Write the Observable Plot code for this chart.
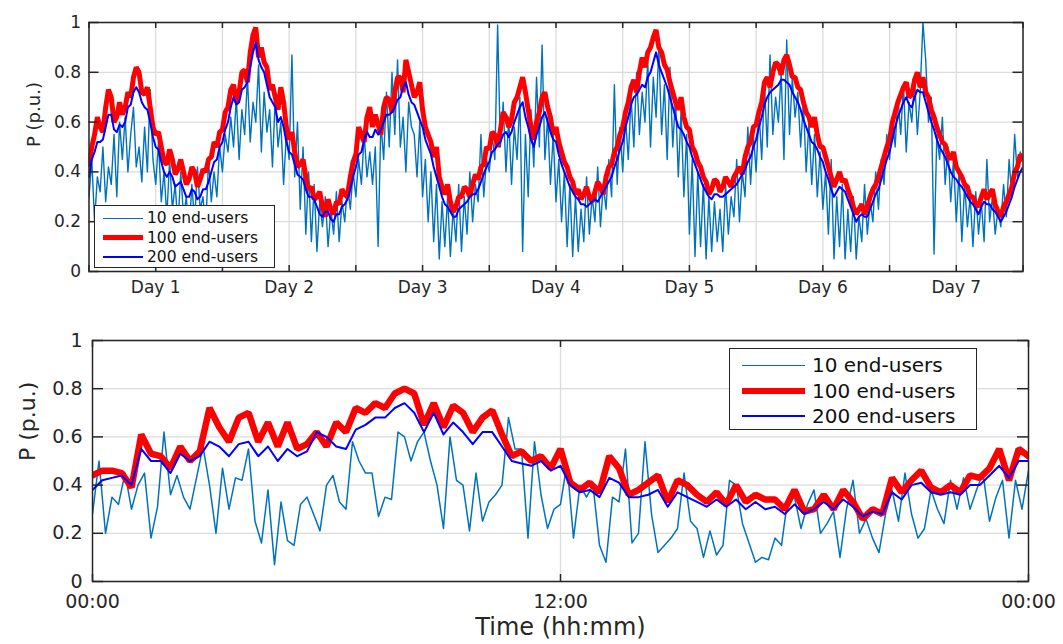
<!DOCTYPE html>
<html><head><meta charset="utf-8">
<script src="https://cdn.jsdelivr.net/npm/d3@7"></script>
<script src="https://cdn.jsdelivr.net/npm/@observablehq/plot@0.6"></script>
<style>
body{margin:0;background:#fff;font-family:"DejaVu Sans",sans-serif;}
#wrap{position:relative;width:1063px;height:644px;overflow:hidden;background:#fff;}
#wrap > svg{position:absolute;left:0;}
.legend{position:absolute;background:#fff;border:1px solid #262626;box-sizing:border-box;color:#111;font-family:"DejaVu Sans",sans-serif;}
.row{display:flex;align-items:center;white-space:nowrap;}
</style></head><body><div id="wrap"></div>
<script>
const seriesNames = ["10 end-users","100 end-users","200 end-users"];
const colors = ["#0072BD","#FF0000","#0000FF"];
const dayLabels = ["Day 1","Day 2","Day 3","Day 4","Day 5","Day 6","Day 7"];
const timeLabels = ["00:00","12:00","00:00"];
const yTicks = [0,0.2,0.4,0.6,0.8,1];
const yTickLabels = ["0","0.2","0.4","0.6","0.8","1"];
const yLabel = "P (p.u.)";
const xLabel = "Time (hh:mm)";

// Top panel: one week (hours 0..168), half-hourly readings
const top10 = [
0.30,0.45,0.20,0.38,0.32,0.50,0.28,0.42,0.35,0.55,0.30,0.60,0.45,0.62,0.40,0.55,0.66,0.42,0.50,0.36,0.58,0.40,0.73,0.45,0.35,0.52,0.28,0.40,0.22,0.45,0.25,0.35,0.18,0.40,0.22,0.30,0.15,0.35,0.20,0.42,0.25,0.30,0.18,0.45,0.28,0.40,0.30,0.50,
0.40,0.55,0.48,0.62,0.50,0.70,0.45,0.65,0.55,0.78,0.52,0.68,0.60,0.83,0.48,0.72,0.56,0.65,0.42,0.70,0.50,0.60,0.35,0.55,0.45,0.87,0.38,0.60,0.25,0.50,0.15,0.40,0.12,0.35,0.08,0.28,0.18,0.30,0.10,0.25,0.15,0.32,0.12,0.28,0.20,0.35,0.25,0.40,
0.30,0.45,0.35,0.55,0.38,0.48,0.35,0.50,0.10,0.60,0.45,0.72,0.50,0.80,0.55,0.85,0.50,0.62,0.40,0.68,0.58,0.55,0.38,0.60,0.30,0.45,0.20,0.40,0.12,0.35,0.05,0.28,0.10,0.30,0.06,0.25,0.12,0.35,0.08,0.30,0.15,0.40,0.20,0.35,0.28,0.55,0.30,0.45,
0.40,0.55,0.45,0.99,0.50,0.68,0.40,0.62,0.35,0.58,0.45,0.70,0.08,0.55,0.30,0.65,0.42,0.78,0.50,0.91,0.45,0.62,0.35,0.55,0.28,0.45,0.20,0.40,0.10,0.35,0.06,0.30,0.08,0.25,0.12,0.38,0.15,0.30,0.20,0.42,0.18,0.35,0.25,0.45,0.30,0.75,0.35,0.58,
0.40,0.62,0.45,0.70,0.50,0.80,0.55,0.72,0.60,0.85,0.50,0.78,0.62,0.90,0.55,0.75,0.45,0.82,0.50,0.70,0.38,0.65,0.30,0.55,0.15,0.45,0.06,0.40,0.10,0.35,0.05,0.30,0.08,0.28,0.12,0.25,0.08,0.35,0.15,0.30,0.22,0.45,0.20,0.40,0.30,0.58,0.35,0.55,
0.40,0.65,0.45,0.75,0.50,0.87,0.55,0.70,0.60,0.80,0.45,0.93,0.55,0.78,0.62,0.72,0.50,0.68,0.40,0.60,0.35,0.55,0.30,0.48,0.25,0.40,0.15,0.45,0.05,0.30,0.10,0.35,0.05,0.25,0.08,0.30,0.05,0.22,0.12,0.35,0.15,0.28,0.20,0.40,0.25,0.45,0.35,0.55,
0.45,0.62,0.50,0.70,0.55,0.75,0.48,0.68,0.60,0.78,0.55,0.72,1.00,0.85,0.60,0.70,0.07,0.55,0.45,0.62,0.35,0.50,0.28,0.45,0.20,0.40,0.12,0.35,0.18,0.30,0.10,0.32,0.15,0.28,0.12,0.45,0.20,0.30,0.15,0.25,0.18,0.35,0.22,0.45,0.30,0.55,0.38,0.48,0.45];
const top100 = [
0.43,0.50,0.55,0.62,0.58,0.56,0.66,0.73,0.70,0.60,0.62,0.68,0.63,0.66,0.72,0.70,0.78,0.82,0.80,0.72,0.71,0.74,0.66,0.58,0.55,0.56,0.50,0.44,0.43,0.49,0.45,0.39,0.41,0.45,0.40,0.35,0.37,0.42,0.40,0.34,0.37,0.41,0.40,0.45,0.46,0.52,0.50,0.56,
0.57,0.64,0.66,0.73,0.75,0.68,0.72,0.80,0.81,0.76,0.88,0.95,0.98,0.86,0.90,0.84,0.82,0.73,0.75,0.70,0.65,0.74,0.68,0.58,0.53,0.56,0.48,0.42,0.43,0.45,0.38,0.33,0.34,0.29,0.30,0.32,0.26,0.22,0.29,0.25,0.23,0.28,0.27,0.33,0.31,0.30,0.38,0.44,
0.47,0.58,0.55,0.52,0.62,0.66,0.58,0.63,0.59,0.55,0.66,0.70,0.69,0.64,0.72,0.78,0.78,0.72,0.85,0.80,0.75,0.70,0.72,0.76,0.65,0.58,0.55,0.52,0.46,0.50,0.38,0.34,0.31,0.35,0.28,0.24,0.26,0.30,0.30,0.34,0.33,0.30,0.35,0.39,0.37,0.42,0.43,0.50,
0.49,0.56,0.55,0.50,0.57,0.64,0.62,0.58,0.61,0.68,0.70,0.74,0.78,0.72,0.65,0.58,0.53,0.60,0.64,0.70,0.72,0.66,0.62,0.55,0.58,0.52,0.48,0.44,0.42,0.38,0.36,0.31,0.33,0.29,0.31,0.34,0.30,0.28,0.32,0.36,0.34,0.31,0.38,0.42,0.43,0.48,0.50,0.55,
0.58,0.64,0.68,0.74,0.77,0.72,0.80,0.86,0.82,0.88,0.90,0.94,0.97,0.90,0.88,0.83,0.81,0.76,0.72,0.68,0.65,0.70,0.62,0.58,0.57,0.50,0.48,0.44,0.42,0.38,0.36,0.31,0.33,0.37,0.36,0.32,0.34,0.38,0.36,0.34,0.38,0.40,0.42,0.39,0.46,0.50,0.52,0.58,
0.59,0.64,0.68,0.76,0.78,0.74,0.80,0.84,0.83,0.79,0.85,0.87,0.83,0.78,0.78,0.74,0.73,0.68,0.64,0.62,0.58,0.62,0.55,0.50,0.50,0.46,0.42,0.38,0.34,0.37,0.40,0.36,0.37,0.33,0.30,0.26,0.23,0.25,0.27,0.23,0.26,0.30,0.33,0.35,0.38,0.42,0.46,0.50,
0.53,0.60,0.64,0.68,0.71,0.74,0.76,0.70,0.71,0.77,0.80,0.74,0.78,0.72,0.70,0.65,0.62,0.58,0.55,0.52,0.51,0.47,0.45,0.48,0.42,0.40,0.38,0.35,0.34,0.30,0.30,0.27,0.26,0.30,0.33,0.29,0.31,0.33,0.27,0.24,0.22,0.26,0.28,0.31,0.34,0.40,0.42,0.47,0.45];
const top200 = [
0.38,0.45,0.48,0.52,0.52,0.53,0.58,0.63,0.63,0.57,0.56,0.59,0.58,0.60,0.66,0.67,0.72,0.74,0.72,0.68,0.66,0.65,0.60,0.54,0.50,0.49,0.44,0.40,0.38,0.40,0.38,0.34,0.35,0.36,0.33,0.30,0.30,0.33,0.32,0.29,0.30,0.33,0.33,0.36,0.40,0.44,0.45,0.50,
0.52,0.57,0.60,0.66,0.70,0.67,0.68,0.73,0.74,0.76,0.82,0.88,0.92,0.85,0.82,0.80,0.75,0.70,0.68,0.66,0.60,0.62,0.58,0.52,0.48,0.47,0.43,0.39,0.38,0.37,0.33,0.30,0.30,0.29,0.26,0.23,0.22,0.24,0.24,0.21,0.20,0.23,0.23,0.26,0.27,0.29,0.33,0.38,
0.42,0.47,0.48,0.53,0.56,0.54,0.54,0.57,0.55,0.57,0.60,0.63,0.63,0.64,0.66,0.69,0.70,0.74,0.76,0.71,0.68,0.67,0.64,0.61,0.58,0.53,0.50,0.47,0.42,0.38,0.34,0.30,0.27,0.26,0.24,0.22,0.22,0.25,0.26,0.27,0.28,0.30,0.31,0.31,0.33,0.36,0.39,0.42,
0.44,0.48,0.49,0.51,0.52,0.55,0.56,0.54,0.56,0.60,0.63,0.66,0.68,0.62,0.58,0.53,0.50,0.55,0.58,0.62,0.64,0.60,0.56,0.53,0.52,0.47,0.43,0.40,0.37,0.34,0.32,0.30,0.29,0.27,0.27,0.26,0.27,0.28,0.29,0.28,0.30,0.32,0.34,0.36,0.38,0.42,0.45,0.49,
0.52,0.58,0.62,0.67,0.70,0.71,0.73,0.75,0.74,0.78,0.80,0.84,0.88,0.83,0.80,0.77,0.74,0.70,0.66,0.62,0.58,0.57,0.55,0.52,0.50,0.46,0.43,0.40,0.37,0.34,0.32,0.30,0.29,0.31,0.31,0.30,0.30,0.31,0.32,0.33,0.34,0.35,0.37,0.39,0.41,0.44,0.46,0.50,
0.53,0.58,0.62,0.67,0.70,0.72,0.73,0.74,0.75,0.77,0.77,0.76,0.75,0.72,0.70,0.68,0.65,0.61,0.58,0.55,0.52,0.51,0.49,0.46,0.44,0.40,0.37,0.33,0.30,0.32,0.34,0.33,0.32,0.29,0.26,0.23,0.20,0.22,0.23,0.22,0.22,0.25,0.28,0.31,0.33,0.37,0.41,0.45,
0.48,0.53,0.58,0.62,0.65,0.68,0.70,0.67,0.66,0.70,0.73,0.72,0.72,0.68,0.64,0.60,0.57,0.53,0.50,0.48,0.46,0.43,0.40,0.38,0.37,0.35,0.34,0.32,0.30,0.28,0.27,0.25,0.23,0.26,0.28,0.27,0.27,0.25,0.24,0.22,0.20,0.22,0.24,0.27,0.30,0.34,0.37,0.40,0.42];

// Bottom panel: one day (hours 0..24)
const bot10 = [
0.28,0.50,0.20,0.35,0.32,0.45,0.30,0.40,0.45,0.18,0.31,0.62,0.36,0.44,0.35,0.30,0.43,0.56,0.40,0.20,0.47,0.30,0.43,0.42,0.55,0.25,0.16,0.38,0.07,0.33,0.17,0.15,0.32,0.35,0.28,0.21,0.40,
0.44,0.33,0.30,0.58,0.50,0.45,0.45,0.27,0.35,0.34,0.62,0.60,0.50,0.58,0.62,0.50,0.40,0.22,0.60,0.42,0.40,0.21,0.45,0.25,0.33,0.36,0.40,0.68,0.55,0.55,0.18,0.58,0.36,0.22,0.30,0.32,
0.49,0.18,0.40,0.35,0.40,0.15,0.08,0.35,0.33,0.55,0.16,0.20,0.58,0.28,0.12,0.15,0.18,0.22,0.45,0.25,0.22,0.10,0.21,0.11,0.15,0.42,0.40,0.24,0.16,0.08,0.10,0.09,0.18,0.15,0.35,0.35,
0.22,0.32,0.38,0.20,0.24,0.29,0.10,0.30,0.42,0.20,0.26,0.18,0.12,0.28,0.38,0.25,0.45,0.28,0.18,0.22,0.38,0.30,0.24,0.42,0.30,0.43,0.30,0.38,0.45,0.25,0.35,0.42,0.18,0.42,0.30,0.46];
const bot100 = [
0.44,0.46,0.46,0.45,0.39,0.61,0.53,0.52,0.47,0.56,0.50,0.54,0.72,0.64,0.58,0.68,0.70,0.58,0.66,0.56,0.66,0.55,0.57,0.62,0.56,
0.66,0.62,0.72,0.70,0.74,0.72,0.78,0.80,0.78,0.65,0.74,0.64,0.73,0.70,0.62,0.68,0.71,0.61,0.52,0.54,0.50,0.52,0.47,0.55,
0.41,0.38,0.41,0.37,0.52,0.47,0.36,0.38,0.41,0.44,0.33,0.42,0.40,0.36,0.33,0.37,0.32,0.40,0.33,0.36,0.34,0.34,0.30,0.38,
0.29,0.30,0.36,0.30,0.38,0.33,0.26,0.30,0.28,0.43,0.37,0.42,0.46,0.39,0.37,0.40,0.37,0.44,0.43,0.47,0.55,0.42,0.55,0.52];
const bot200 = [
0.38,0.42,0.43,0.44,0.40,0.55,0.50,0.50,0.45,0.53,0.50,0.52,0.58,0.56,0.52,0.57,0.58,0.52,0.56,0.50,0.55,0.52,0.54,0.62,0.60,
0.56,0.55,0.63,0.65,0.68,0.68,0.72,0.74,0.70,0.62,0.70,0.61,0.66,0.62,0.57,0.62,0.62,0.56,0.50,0.49,0.48,0.50,0.46,0.48,
0.40,0.37,0.38,0.35,0.43,0.41,0.35,0.35,0.36,0.38,0.31,0.37,0.35,0.33,0.31,0.34,0.31,0.34,0.30,0.33,0.30,0.31,0.28,0.32,
0.28,0.30,0.33,0.30,0.34,0.31,0.27,0.29,0.28,0.37,0.34,0.40,0.41,0.37,0.36,0.37,0.36,0.40,0.40,0.44,0.48,0.43,0.50,0.50];

function toRows(vals, span){ const n = vals.length; return vals.map((v,i)=>({t: i*span/(n-1), v})); }
const yFmt = d => yTickLabels[yTicks.indexOf(d)];

const ink = "#262626", gridC = "#dcdcdc";
const wrap = document.getElementById("wrap");

// ---------- top panel ----------
const W1=1063, H1=300, mL1=88.5, mR1=40.5, mT1=22, mB1=29;
const fw1=W1-mL1-mR1, fh1=H1-mT1-mB1;
const halfDays = d3.range(0,169,12);
const dayCenters = dayLabels.map((_,i)=>24*i+12);
const topPlot = Plot.plot({
  width:W1, height:H1, marginLeft:mL1, marginRight:mR1, marginTop:mT1, marginBottom:mB1,
  x:{domain:[0,168], label:null}, y:{domain:[0,1], label:null},
  style:{fontFamily:"DejaVu Sans", fontSize:"17px", color:ink, background:"transparent", overflow:"visible"},
  marks:[
    Plot.gridX(halfDays,{stroke:gridC, strokeOpacity:1, strokeWidth:1.3}),
    Plot.gridY(yTicks,{stroke:gridC, strokeOpacity:1, strokeWidth:1.3}),
    Plot.line(toRows(top10,168),{x:"t", y:"v", stroke:colors[0], strokeWidth:1.4, clip:true}),
    Plot.line(toRows(top100,168),{x:"t", y:"v", stroke:colors[1], strokeWidth:5, strokeLinejoin:"miter", clip:true}),
    Plot.line(toRows(top200,168),{x:"t", y:"v", stroke:colors[2], strokeWidth:2, clip:true}),
    Plot.tickX(halfDays,{x:d=>d, stroke:ink, strokeWidth:1.5, insetTop:fh1-6}),
    Plot.tickX(halfDays,{x:d=>d, stroke:ink, strokeWidth:1.5, insetBottom:fh1-6}),
    Plot.tickY(yTicks,{y:d=>d, stroke:ink, strokeWidth:1.5, insetRight:fw1-10}),
    Plot.tickY(yTicks,{y:d=>d, stroke:ink, strokeWidth:1.5, insetLeft:fw1-10}),
    Plot.frame({stroke:ink, strokeWidth:1.5}),
    Plot.axisX(dayCenters,{tickSize:0, tickPadding:9, tickFormat:d=>dayLabels[Math.round((d-12)/24)], label:null, fontSize:17}),
    Plot.axisY(yTicks,{tickSize:0, tickPadding:8, tickFormat:yFmt, label:null, fontSize:17}),
    Plot.text([yLabel],{text:d=>d, frameAnchor:"left", rotate:-90, dx:-55, fontSize:18})
  ]
});
topPlot.style.top = "0px";
wrap.append(topPlot);

// ---------- bottom panel ----------
const W2=1063, H2=344, mL2=92, mR2=35, mT2=40, mB2=63;
const fw2=W2-mL2-mR2, fh2=H2-mT2-mB2;
const hourTicks = [0,12,24];
const botPlot = Plot.plot({
  width:W2, height:H2, marginLeft:mL2, marginRight:mR2, marginTop:mT2, marginBottom:mB2,
  x:{domain:[0,24], label:null}, y:{domain:[0,1], label:null},
  style:{fontFamily:"DejaVu Sans", fontSize:"19px", color:ink, background:"transparent", overflow:"visible"},
  marks:[
    Plot.gridX([12],{stroke:gridC, strokeOpacity:1, strokeWidth:1.3}),
    Plot.gridY(yTicks,{stroke:gridC, strokeOpacity:1, strokeWidth:1.3}),
    Plot.line(toRows(bot10,24),{x:"t", y:"v", stroke:colors[0], strokeWidth:1.5, clip:true}),
    Plot.line(toRows(bot100,24),{x:"t", y:"v", stroke:colors[1], strokeWidth:6.5, strokeLinejoin:"miter", clip:true}),
    Plot.line(toRows(bot200,24),{x:"t", y:"v", stroke:colors[2], strokeWidth:2, clip:true}),
    Plot.tickX(hourTicks,{x:d=>d, stroke:ink, strokeWidth:1.5, insetTop:fh2-7}),
    Plot.tickX(hourTicks,{x:d=>d, stroke:ink, strokeWidth:1.5, insetBottom:fh2-7}),
    Plot.tickY(yTicks,{y:d=>d, stroke:ink, strokeWidth:1.5, insetRight:fw2-11}),
    Plot.tickY(yTicks,{y:d=>d, stroke:ink, strokeWidth:1.5, insetLeft:fw2-11}),
    Plot.frame({stroke:ink, strokeWidth:1.5}),
    Plot.axisX(hourTicks,{tickSize:0, tickPadding:13, tickFormat:d=>timeLabels[Math.round(d/12)], label:null, fontSize:19}),
    Plot.axisY(yTicks,{tickSize:0, tickPadding:10, tickFormat:yFmt, label:null, fontSize:19}),
    Plot.text([yLabel],{text:d=>d, frameAnchor:"left", rotate:-90, dx:-65, fontSize:22}),
    Plot.text([xLabel],{text:d=>d, frameAnchor:"bottom", lineAnchor:"middle", dy:46, fontSize:24})
  ]
});
botPlot.style.top = "300px";
wrap.append(botPlot);

// ---------- legends ----------
function legend(o){
  const d = document.createElement("div");
  d.className = "legend";
  Object.assign(d.style,{left:o.left+"px", top:o.top+"px", width:o.w+"px", height:o.h+"px", paddingTop:o.padTop+"px", fontSize:o.fs+"px"});
  seriesNames.forEach((name,i)=>{
    const r = document.createElement("div");
    r.className = "row"; r.style.height = o.rowH+"px";
    const s = document.createElement("span");
    Object.assign(s.style,{display:"inline-block", flex:"none", width:o.swW+"px", height:o.lw[i]+"px", background:colors[i], marginLeft:o.padLeft+"px", marginRight:o.gap+"px"});
    const t = document.createElement("span");
    t.textContent = name;
    r.append(s,t);
    d.append(r);
  });
  wrap.append(d);
}
legend({left:94, top:205, w:181, h:63, padTop:2.5, rowH:19.5, fs:15.5, padLeft:8, swW:40, gap:4, lw:[1.2,5,2]});
legend({left:729, top:348, w:248, h:82, padTop:3.5, rowH:25.5, fs:20, padLeft:12, swW:63, gap:7, lw:[1.5,6.5,2]});
</script></body></html>
